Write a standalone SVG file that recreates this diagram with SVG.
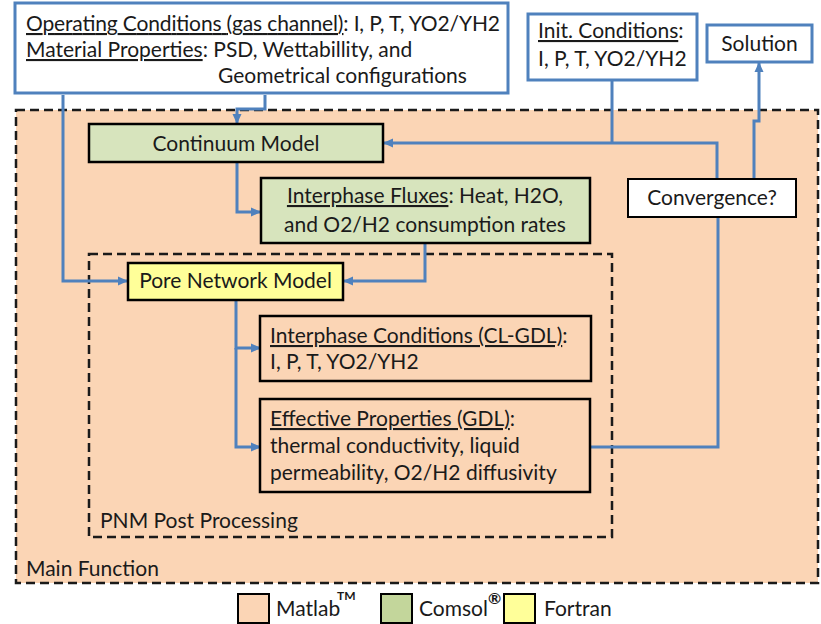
<svg xmlns="http://www.w3.org/2000/svg" width="821" height="624" viewBox="0 0 821 624">
  <defs>
    <marker id="arrow" viewBox="0 0 10 10" refX="9" refY="5" markerWidth="10" markerHeight="10" markerUnits="userSpaceOnUse" orient="auto">
      <path d="M0,0.5 L10,5 L0,9.5 z" fill="#4F81BD"/>
    </marker>
    <style>
      text { font-family: Lato, "Open Sans", "Liberation Sans", sans-serif; fill: #1a1a1a; }
      .t18 { font-size: 21px; }
      .u { text-decoration: underline; }
      .inbox { fill: #FFFFFF; stroke: #4F81BD; stroke-width: 3; }
      .plain { fill: #FFFFFF; stroke: #000000; stroke-width: 2; }
      .green { fill: #D7E4BD; stroke: #000000; stroke-width: 2.5; }
      .yellow { fill: #FFFF99; stroke: #000000; stroke-width: 2.5; }
      .peachbox { fill: #FBD5B5; stroke: #000000; stroke-width: 2.5; }
      .dash { stroke: #1a1a1a; stroke-width: 2.5; stroke-dasharray: 9 5; }
      .conn { fill: none; stroke: #4F81BD; stroke-width: 3; }
    </style>
  </defs>

  <!-- Containers -->
  <g id="main-function">
    <rect x="16" y="110" width="802" height="473" fill="#FBD5B5" class="dash"/>
    <text class="t18" x="26" y="576">Main Function</text>
  </g>
  <g id="pnm-post-processing">
    <rect x="89" y="254" width="523" height="283" fill="none" class="dash"/>
    <text class="t18" x="100" y="528">PNM Post Processing</text>
  </g>

  <!-- Connectors -->
  <g id="connectors">
    <path class="conn" d="M63,95 V281 H127" marker-end="url(#arrow)"/>
    <path class="conn" d="M265,95 V109 H237 V123" marker-end="url(#arrow)"/>
    <path class="conn" d="M237,162 V212 H260" marker-end="url(#arrow)"/>
    <path class="conn" d="M425,243 V281 H344" marker-end="url(#arrow)"/>
    <path class="conn" d="M236,300 V348 H260" marker-end="url(#arrow)"/>
    <path class="conn" d="M236,348 V447 H260" marker-end="url(#arrow)"/>
    <path class="conn" d="M590,447 H718 V217"/>
    <path class="conn" d="M717,179 V143 H384" marker-end="url(#arrow)"/>
    <path class="conn" d="M612,80 V143"/>
    <path class="conn" d="M754,179 V121 H759 V63" marker-end="url(#arrow)"/>
  </g>

  <!-- Inputs -->
  <g id="inputs">
    <rect class="inbox" x="15" y="3" width="493" height="90"/>
    <text class="t18" x="26" y="31" textLength="474" lengthAdjust="spacing"><tspan class="u">Operating Conditions (gas channel)</tspan>: I, P, T, YO2/YH2</text>
    <text class="t18" x="26" y="57"><tspan class="u">Material Properties</tspan>: PSD, Wettabillity, and</text>
    <text class="t18" x="218" y="83">Geometrical configurations</text>
  </g>
  <g id="init-conditions">
    <rect class="inbox" x="528" y="14" width="169" height="66"/>
    <text class="t18" x="538" y="38"><tspan class="u">Init. Conditions</tspan>:</text>
    <text class="t18" x="538" y="66">I, P, T, YO2/YH2</text>
  </g>
  <g id="solution">
    <rect class="inbox" x="707" y="25" width="105" height="37"/>
    <text class="t18" x="759.5" y="51" text-anchor="middle">Solution</text>
  </g>

  <!-- Models -->
  <g id="continuum-model">
    <rect class="green" x="89" y="124" width="294" height="38"/>
    <text class="t18" x="236" y="151" text-anchor="middle">Continuum Model</text>
  </g>
  <g id="interphase-fluxes">
    <rect class="green" x="261" y="178" width="329" height="65"/>
    <text class="t18" x="425" y="203" text-anchor="middle"><tspan class="u">Interphase Fluxes</tspan>: Heat, H2O,</text>
    <text class="t18" x="425" y="232" text-anchor="middle">and O2/H2 consumption rates</text>
  </g>
  <g id="convergence">
    <rect class="plain" x="628" y="179" width="168" height="38"/>
    <text class="t18" x="712" y="205" text-anchor="middle">Convergence?</text>
  </g>
  <g id="pore-network-model">
    <rect class="yellow" x="128" y="263" width="215" height="37"/>
    <text class="t18" x="235.5" y="288" text-anchor="middle">Pore Network Model</text>
  </g>
  <g id="interphase-conditions">
    <rect class="peachbox" x="260" y="316" width="331" height="65"/>
    <text class="t18" x="270" y="343"><tspan class="u">Interphase Conditions (CL-GDL)</tspan>:</text>
    <text class="t18" x="270" y="369">I, P, T, YO2/YH2</text>
  </g>
  <g id="effective-properties">
    <rect class="peachbox" x="260" y="399" width="330" height="93"/>
    <text class="t18" x="270" y="426"><tspan class="u">Effective Properties (GDL)</tspan>:</text>
    <text class="t18" x="270" y="453">thermal conductivity, liquid</text>
    <text class="t18" x="270" y="480">permeability, O2/H2 diffusivity</text>
  </g>

  <!-- Legend -->
  <g id="legend">
    <rect x="238" y="594" width="31" height="29" fill="#FBD5B5" stroke="#000" stroke-width="2"/>
    <text class="t18" x="276" y="616">Matlab</text>
    <text x="337" y="600" font-size="12" font-weight="bold">TM</text>
    <rect x="381" y="594" width="31" height="29" fill="#C3D69B" stroke="#000" stroke-width="2"/>
    <text class="t18" x="419" y="616">Comsol</text>
    <text x="488" y="604" font-size="16" font-weight="bold">®</text>
    <rect x="504" y="594" width="31" height="29" fill="#FFFF99" stroke="#000" stroke-width="2"/>
    <text class="t18" x="544" y="616">Fortran</text>
  </g>
</svg>
